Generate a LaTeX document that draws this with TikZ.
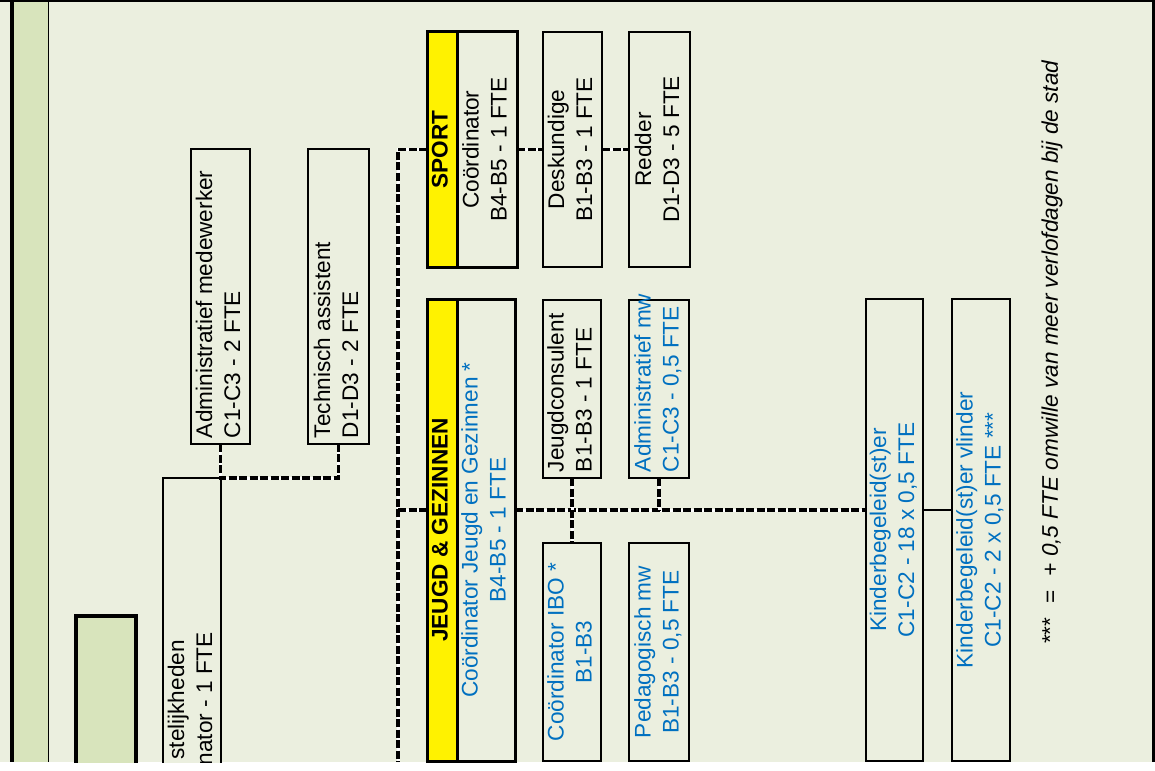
\documentclass[tikz,border=0pt]{standalone}
\usepackage{fontspec}
\setmainfont{Liberation Sans}
\usepackage{graphicx}
\usetikzlibrary{positioning}
\definecolor{bg}{RGB}{235,239,223}
\definecolor{band}{RGB}{216,228,188}
\definecolor{blauw}{RGB}{0,112,192}
\newcommand\fs{\fontsize{22.6}{28}\selectfont}
\newcommand\vc[1]{\rotatebox{90}{\begin{tabular}{@{}c@{}}#1\end{tabular}}}
\newcommand\vl[2]{\rotatebox{90}{\makebox[#1][l]{\begin{tabular}{@{}l@{}}#2\end{tabular}}}}
\begin{document}
\begin{tikzpicture}[x=1pt, y=-1pt,
  box/.style={draw, line width=1.5pt, fill=bg, inner sep=0pt, outer sep=0pt, font=\fs},
  thickbox/.style={box, line width=3pt},
  head/.style={thickbox, fill=yellow, font=\fs\bfseries},
  link/.style={line width=3.5pt, dash pattern=on 8pt off 2.5pt,
    preaction={draw=white, line width=3pt, solid}}]
  \useasboundingbox (0,0) rectangle (1155,770);
  \clip (0,0) rectangle (1155,762);

  \fill[bg] (0,0) rectangle (1155,762);
  \fill[band] (14,0) rectangle (48,762);
  \fill (10,0) rectangle (14,762);
  \fill (47.5,0) rectangle (49,762);
  \fill (0,0) rectangle (1155,2);
  \fill (1152,0) rectangle (1155,762);

  \node[thickbox, fill=band, line width=3.5pt, minimum width=60pt, minimum height=200pt, anchor=north] (groen) at (106,616) {};
  \node[box, minimum width=58pt, minimum height=330pt, anchor=north] (stel) at (192,478) {};
  \node[font=\fs, rotate=90, anchor=east, inner sep=0pt, align=right] (steltxt) at (190,632) {stelijkheden\rule{8pt}{0pt}\\nator - 1 FTE};

  \node[box, minimum width=59pt, minimum height=295pt] (admmed) at (220.5,296.5) {\vl{283pt}{Administratief medewerker\\C1-C3 - 2 FTE}};
  \node[box, minimum width=61pt, minimum height=295pt] (techn) at (338.5,296.5) {\vl{283pt}{Technisch assistent\\D1-D3 - 2 FTE}};
  \draw[link] (admmed.south) -- (admmed.south |- stel.north) -| (techn.south);

  \node[head, minimum width=30pt, minimum height=235pt] (sporthead) at (442,149.5) {\vc{SPORT}};
  \node[thickbox, minimum width=60pt, minimum height=235pt, right=0pt of sporthead] (sportcoord) {\vc{Coördinator\\B4-B5 - 1 FTE}};
  \node[box, minimum width=59pt, minimum height=235pt, right=26pt of sportcoord] (desk) {\vc{Deskundige\\B1-B3 - 1 FTE}};
  \node[box, minimum width=61pt, minimum height=235pt, right=27pt of desk] (redder) {\vc{Redder\\D1-D3 - 5 FTE}};

  \node[head, minimum width=30pt, minimum height=462pt] (jeugdhead) at (442,530) {\vc{JEUGD \& GEZINNEN}};
  \node[thickbox, text=blauw, minimum width=58pt, minimum height=462pt, right=0pt of jeugdhead] (jeugdcoord) {\vc{Coördinator Jeugd en Gezinnen *\\B4-B5 - 1 FTE}};
  \node[box, minimum width=58pt, minimum height=178pt] (jconsul) at (572,389) {\vl{166pt}{Jeugdconsulent\\B1-B3 - 1 FTE}};
  \node[box, text=blauw, minimum width=60pt, minimum height=178pt] (admmw) at (659,389) {\vl{166pt}{Administratief mw\\C1-C3 - 0,5 FTE}};
  \node[box, text=blauw, minimum width=58pt, minimum height=218pt] (ibo) at (572,652) {\vc{Coördinator IBO *\\B1-B3}};
  \node[box, text=blauw, minimum width=60pt, minimum height=218pt] (peda) at (659,652) {\vc{Pedagogisch mw\\B1-B3 - 0,5 FTE}};
  \node[box, text=blauw, minimum width=57pt, minimum height=462pt] (kinder) at (894.5,530) {\vc{Kinderbegeleid(st)er\\C1-C2 - 18 x 0,5 FTE}};
  \node[box, text=blauw, minimum width=58pt, minimum height=462pt] (vlinder) at (981,530) {\vc{Kinderbegeleid(st)er vlinder\\C1-C2 - 2 x 0,5 FTE ***}};

  \coordinate (stam) at (398,762);
  \coordinate (jrij) at (398,510);
  \draw[link] (sporthead.west) -| (stam);
  \draw[link] (sportcoord.east) -- (desk.west);
  \draw[link] (desk.east) -- (redder.west);
  \draw[link] (jrij) -- (jeugdhead.west |- jrij);
  \draw[link] (jeugdcoord.east |- jrij) -- (kinder.west |- jrij);
  \draw[link] (jconsul.south) -- (ibo.north);
  \draw[link] (admmw.south) -- (admmw.south |- jrij);
  \draw[line width=1.5pt] (kinder.east |- jrij) -- (vlinder.west |- jrij);

  \node[font=\fs] (noot) at (1052,352) {\rotatebox{90}{***\hspace{14pt}=\hspace{14pt}\textit{+ 0,5 FTE omwille van meer verlofdagen bij de stad}}};
\end{tikzpicture}
\end{document}
